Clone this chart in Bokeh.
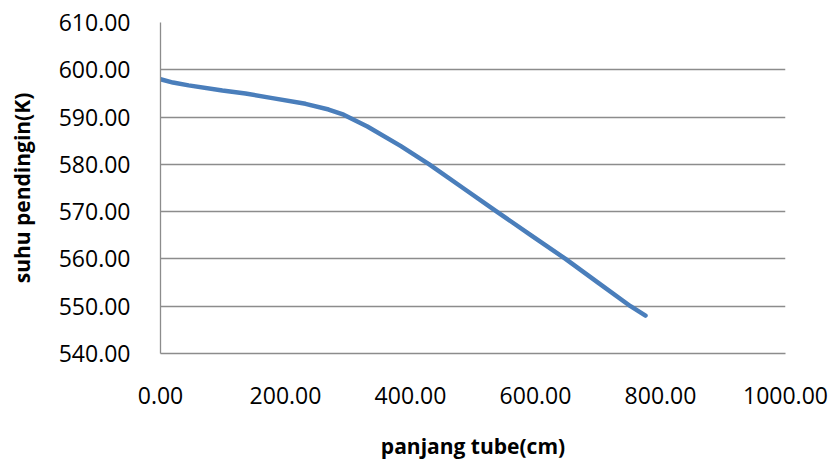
from bokeh.plotting import figure
from bokeh.models import Range1d, FixedTicker, NumeralTickFormatter
from bokeh.embed import file_html
from bokeh.resources import INLINE

# data
panjang_tube_cm = [0, 20, 45, 99, 136, 179, 232, 269, 293, 331, 384, 430,
                   484, 538, 593, 648, 700, 752, 776]
suhu_pendingin_K = [598.0, 597.3, 596.7, 595.6, 595.0, 594.0, 592.8, 591.6, 590.5,
                    588.0, 583.9, 580.0, 575.0, 570.0, 565.0, 560.0, 555.0, 550.0, 548.0]
x_ticks = [0, 200, 400, 600, 800, 1000]
y_ticks = [540, 550, 560, 570, 580, 590, 600, 610]

W, H = 830, 464
p = figure(width=W, height=H, output_backend="svg", toolbar_location=None,
           x_range=Range1d(0, 1000), y_range=Range1d(540, 610),
           min_border_left=160, min_border_right=W - 785, min_border_top=22,
           min_border_bottom=H - 353)
p.outline_line_color = None
p.background_fill_color = "white"
p.border_fill_color = "white"

p.line(panjang_tube_cm, suhu_pendingin_K, line_color="#4a7ebb", line_width=4.5,
       line_cap="round", line_join="round")

tick_font = "Open Sans"
for ax in (p.xaxis[0], p.yaxis[0]):
    ax.major_tick_line_color = None
    ax.minor_tick_line_color = None
    ax.major_label_text_font = tick_font
    ax.major_label_text_font_size = "23px"
    ax.major_label_text_color = "#000000"
    ax.axis_label_text_font = tick_font
    ax.axis_label_text_font_size = "21px"
    ax.axis_label_text_font_style = "bold"
    ax.axis_label_text_color = "#000000"
    ax.formatter = NumeralTickFormatter(format="0.00")

p.xaxis.ticker = FixedTicker(ticks=x_ticks)
p.yaxis.ticker = FixedTicker(ticks=y_ticks)
p.xaxis.axis_label = "panjang tube(cm)"
p.yaxis.axis_label = "suhu pendingin(K)"
p.xaxis.axis_line_color = "#8c8c8c"
p.yaxis.axis_line_color = "#8c8c8c"
p.xaxis.axis_line_width = 1.3
p.yaxis.axis_line_width = 1.3
p.xaxis.major_label_standoff = 27
p.yaxis.major_label_standoff = 24
p.xaxis.axis_label_standoff = 25
p.yaxis.axis_label_standoff = 20

p.xgrid.grid_line_color = None
p.ygrid.grid_line_color = "#8c8c8c"
p.ygrid.grid_line_width = 1.3

open("out.html", "w").write(file_html(p, INLINE))
